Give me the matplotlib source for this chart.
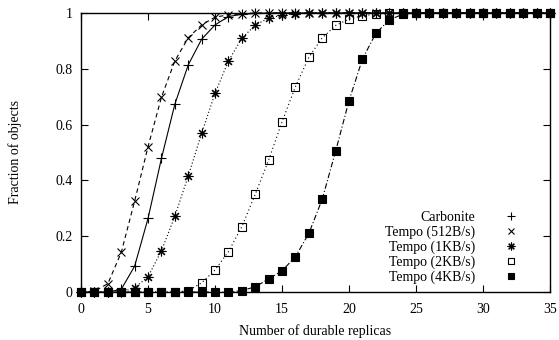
import matplotlib
matplotlib.use("Agg")
import matplotlib.pyplot as plt
from matplotlib.lines import Line2D

plt.rcParams['font.family'] = ['Liberation Serif', 'DejaVu Serif']
plt.rcParams['font.size'] = 10

# ---------- データ ----------
replicas = list(range(0, 36))

carbonite = [0, 0, 0, 0.01, 0.093, 0.264, 0.479, 0.673, 0.814, 0.906, 0.957, 0.987,
             0.995, 0.998] + [1.0] * 22
tempo_512 = [0, 0.003, 0.03, 0.142, 0.326, 0.521, 0.698, 0.828, 0.911, 0.957, 0.985,
             0.993, 0.997] + [1.0] * 23
tempo_1k = [0, 0, 0, 0, 0.015, 0.055, 0.148, 0.272, 0.416, 0.569, 0.712, 0.828, 0.909,
            0.957, 0.981, 0.992, 0.997] + [1.0] * 19
tempo_2k = [0] * 8 + [0.005, 0.033, 0.079, 0.145, 0.234, 0.350, 0.473, 0.610, 0.736,
                      0.841, 0.911, 0.955, 0.978, 0.990, 0.995, 0.998] + [1.0] * 12
tempo_4k = [0] * 12 + [0.005, 0.019, 0.047, 0.076, 0.127, 0.210, 0.333, 0.505, 0.686,
                       0.835, 0.927, 0.975, 0.995] + [1.0] * 11

labels = ["Carbonite", "Tempo (512B/s)", "Tempo (1KB/s)", "Tempo (2KB/s)", "Tempo (4KB/s)"]
series = [carbonite, tempo_512, tempo_1k, tempo_2k, tempo_4k]

# ---------- スタイル ----------
styles = [
    dict(ls="-", marker="+", ms=7, mfc="black"),
    dict(ls=(0, (4, 3)), marker="x", ms=6, mfc="black"),
    dict(ls=(0, (1, 2)), marker=(8, 2, 0), ms=7, mfc="black"),
    dict(ls=(0, (1, 2.5)), marker="s", ms=5.5, mfc="none"),
    dict(ls=(0, (5, 2, 1, 2)), marker="s", ms=6, mfc="black"),
]

fig = plt.figure(figsize=(5.59, 3.4), dpi=100)
ax = fig.add_axes([0.145, 0.141, 0.839, 0.821])

handles = []
for ys, lab, st in zip(series, labels, styles):
    ax.plot(replicas, ys, color="black", lw=0.8, ls=st["ls"], marker=st["marker"],
            ms=st["ms"], mfc=st["mfc"], mec="black", mew=0.8, clip_on=False)
    handles.append(Line2D([], [], color="black", ls="none", marker=st["marker"],
                          ms=st["ms"] * 0.8, mfc=st["mfc"], mec="black", mew=0.8))

ax.set_xlim(0, 35)
ax.set_ylim(0, 1)
ax.set_xticks([0, 5, 10, 15, 20, 25, 30, 35])
ax.set_yticks([0, 0.2, 0.4, 0.6, 0.8, 1])
ax.set_yticklabels(["0", "0.2", "0.4", "0.6", "0.8", "1"])
ax.tick_params(direction="in", top=True, right=True, length=5, width=0.8)
ax.tick_params(axis="x", pad=8)
ax.tick_params(axis="y", pad=6)
for s in ax.spines.values():
    s.set_linewidth(1.0)

ax.set_xlabel("Number of durable replicas", labelpad=6)
ax.set_ylabel("Fraction of objects", labelpad=24)

ax.legend(handles, labels, loc="lower right", bbox_to_anchor=(0.947, 0.03),
          frameon=False, markerfirst=False, handlelength=2, handletextpad=1.6,
          labelspacing=0.1, borderpad=0, borderaxespad=0)

fig.savefig("out.png", dpi=100)
